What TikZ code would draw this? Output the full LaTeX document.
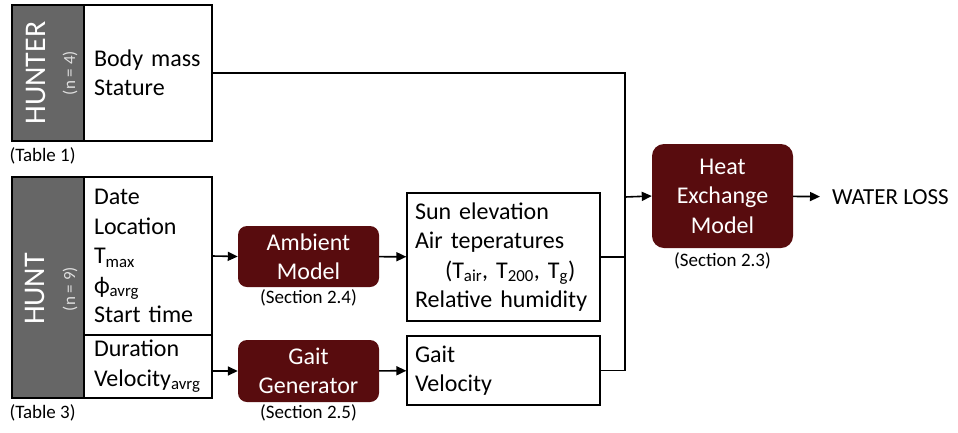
\documentclass[tikz,border=0pt]{standalone}
\usepackage{fontspec}
\setmainfont{Carlito}
\usetikzlibrary{arrows.meta}

\definecolor{modelred}{RGB}{88,12,14}
\definecolor{taggray}{RGB}{102,102,102}

\tikzset{
  infobox/.style={draw, line width=1.2pt, fill=white, align=left, inner xsep=10pt, inner ysep=0pt},
  tagbox/.style={draw, line width=1.2pt, fill=taggray},
  tagname/.style={rotate=90, text=white, font=\fontsize{30}{30}\selectfont},
  tagcount/.style={rotate=90, text=white!80!taggray, font=\fontsize{17}{17}\selectfont},
  modelbox/.style={fill=modelred, rounded corners=9pt, text=white, align=center, inner sep=0pt},
  note/.style={font=\fontsize{19}{22}\selectfont},
  wire/.style={line width=1.6pt},
  feed/.style={wire, -{Triangle[length=10pt,width=9pt]}},
}

\begin{document}
\begin{tikzpicture}[x=1pt, y=-1pt, font=\fontsize{24}{29.5}\selectfont]
\useasboundingbox (0,0) rectangle (958,432);

% hunter data
\node[tagbox, minimum width=72pt, minimum height=136pt] (hunterlab) at (48,73) {};
\node[tagname] (huntername) at (36,73) {HUNTER};
\node[tagcount] (huntern) at (70,73) {(n = 4)};
\node[infobox, text width=108pt, minimum height=136pt] (hunterbox) at (148,73) {Body mass\\Stature};
\node[note, anchor=west] (tab1) at (6,156) {(Table 1)};

% hunt data
\node[tagbox, minimum width=72pt, minimum height=221pt] (huntlab) at (48,287.5) {};
\node[tagname] (huntname) at (35,289) {HUNT};
\node[tagcount] (huntn) at (70,289) {(n = 9)};
\node[infobox, text width=108pt, minimum height=158pt] (huntup) at (148,256)
  {Date\\Location\\T\textsubscript{max}\\ϕ\textsubscript{avrg}\\Start time};
\node[infobox, text width=108pt, minimum height=63pt] (huntlow) at (148,366.5)
  {Duration\\Velocity\textsubscript{avrg}};
\node[note, anchor=west] (tab3) at (6,413) {(Table 3)};

% models
\node[modelbox, minimum width=141pt, minimum height=61pt] (ambient) at (308.5,256.5) {Ambient\\Model};
\node[note] (sec24) at (308.5,298) {(Section 2.4)};
\node[modelbox, minimum width=141pt, minimum height=62pt] (gaitgen) at (308.5,371) {Gait\\Generator};
\node[note] (sec25) at (308.5,413) {(Section 2.5)};

% model outputs
\node[infobox, text width=177pt, minimum height=128pt, inner xsep=8pt] (sunbox) at (503.5,257)
  {Sun elevation\\Air teperatures\\\hspace*{30pt}(T\textsubscript{air}, T\textsubscript{200}, T\textsubscript{g})\\Relative humidity};
\node[infobox, text width=177pt, minimum height=69pt, inner xsep=8pt] (gaitbox) at (503.5,370.5) {Gait\\Velocity};

% heat exchange
\node[modelbox, rounded corners=12pt, minimum width=141pt, minimum height=104pt] (heat) at (722.5,196)
  {Heat\\Exchange\\Model};
\node[note] (sec23) at (722.5,261) {(Section 2.3)};
\node[anchor=west, inner xsep=12pt, font=\fontsize{23}{23}\selectfont] (water) at (820,197) {WATER LOSS};

% connectors
\coordinate (bus) at (625,197);
\draw[wire] (hunterbox.east) -| (bus |- gaitbox.east) -- (gaitbox.east);
\draw[wire] (sunbox.east) -- (sunbox.east -| bus);
\draw[feed] (bus) -- (heat.west);
\draw[feed] (huntup.east) -- (ambient.west);
\draw[feed] (gaitgen.west -| huntlow.east) -- (gaitgen.west);
\draw[feed] (ambient) -- (sunbox);
\draw[feed] (gaitgen) -- (gaitbox);
\draw[feed] (heat) -- (water);
\end{tikzpicture}
\end{document}
